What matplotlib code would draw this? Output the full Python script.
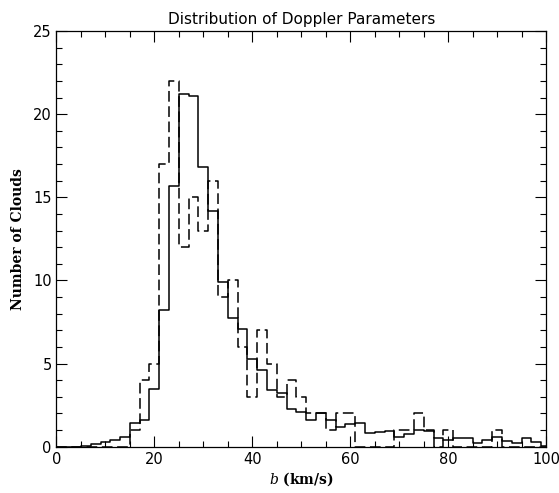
import numpy as np
import matplotlib
matplotlib.use('Agg')
import matplotlib.pyplot as plt
from matplotlib.ticker import MultipleLocator

# b (km/s) bin centres, 2 km/s wide
b_vals = np.arange(0, 101, 2)

# mean number of clouds per bin (solid)
n_mean = [0.0, 0.0, 0.0, 0.05, 0.15, 0.3, 0.4, 0.6, 1.4, 1.6,
          3.45, 8.2, 15.7, 21.2, 21.1, 16.8, 14.2, 9.9, 7.75, 7.1,
          5.3, 4.6, 3.4, 3.2, 2.25, 2.1, 1.6, 2.05, 1.6, 1.2,
          1.35, 1.4, 0.8, 0.9, 0.95, 0.6, 0.75, 1.0, 0.92, 0.55,
          0.4, 0.55, 0.55, 0.2, 0.4, 0.6, 0.35, 0.2, 0.5, 0.3,
          0.05]

# observed counts per bin (dashed)
n_obs = [0, 0, 0, 0, 0, 0, 0, 0, 1, 4,
         5, 17, 22, 12, 15, 13, 16, 9, 10, 6,
         3, 7, 5, 3, 4, 3, 2, 2, 1, 2,
         2, 0, 0, 0, 0, 1, 1, 2, 1, 0,
         1, 0, 0, 0, 0, 1, 0, 0, 0, 0,
         0]

plt.rcParams['mathtext.fontset'] = 'dejavuserif'

fig = plt.figure(figsize=(5.59, 4.93), dpi=100)
ax = fig.add_axes([0.101, 0.094, 0.876, 0.843])

# psym=10 style histograms
ax.step(b_vals, n_mean, where='mid', color='black', lw=1.1)
ax.step(b_vals, n_obs, where='mid', color='black', lw=1.1,
        linestyle=(0, (7, 3)))

ax.set_xlim(0, 100)
ax.set_ylim(0, 25)
ax.xaxis.set_major_locator(MultipleLocator(20))
ax.xaxis.set_minor_locator(MultipleLocator(5))
ax.yaxis.set_major_locator(MultipleLocator(5))
ax.yaxis.set_minor_locator(MultipleLocator(1))
ax.tick_params(which='both', direction='in', top=True, right=True,
               width=0.8, labelsize=10.5)
ax.tick_params(which='major', length=8)
ax.tick_params(which='minor', length=4)
for s in ax.spines.values():
    s.set_linewidth(0.9)

ax.set_title('Distribution of Doppler Parameters', fontsize=11, pad=5)
ax.set_xlabel(r'$b$ (km/s)', family='DejaVu Serif', fontsize=10,
              fontweight='bold', labelpad=3)
ax.set_ylabel('Number of Clouds', family='DejaVu Serif', fontsize=10,
              fontweight='bold', labelpad=6)

fig.savefig('out.png', dpi=100)
